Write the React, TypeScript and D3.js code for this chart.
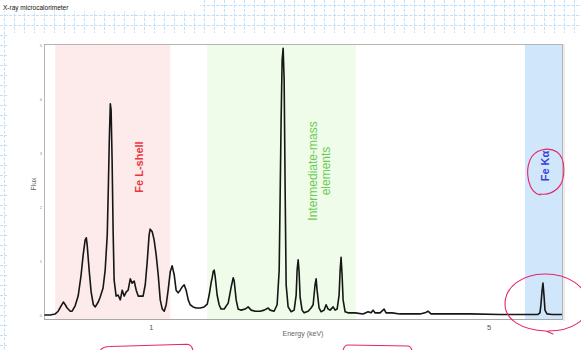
import React from 'react';
import * as d3 from 'd3';

// spectrum (keV, flux)
const spectrumEnergy = [
  0.601, 0.618, 0.633, 0.642, 0.651, 0.658, 0.664, 0.670, 0.680, 0.686,
  0.696, 0.706, 0.716, 0.723, 0.730, 0.734, 0.737, 0.744, 0.751, 0.759,
  0.766, 0.777, 0.784, 0.795, 0.803, 0.811, 0.815, 0.819, 0.823, 0.826,
  0.830, 0.834, 0.838, 0.846, 0.854, 0.863, 0.871, 0.879, 0.888, 0.896,
  0.905, 0.913, 0.922, 0.931, 0.940, 0.949, 0.962, 0.972, 0.981, 0.990,
  0.995, 1.005, 1.014, 1.024, 1.034, 1.044, 1.054, 1.064, 1.074, 1.084,
  1.095, 1.105, 1.116, 1.126, 1.137, 1.148, 1.159, 1.170, 1.181, 1.193,
  1.204, 1.221, 1.239, 1.263, 1.287, 1.306, 1.318, 1.331, 1.337, 1.344,
  1.350, 1.356, 1.369, 1.382, 1.395, 1.416, 1.443, 1.464, 1.478, 1.485,
  1.499, 1.513, 1.535, 1.565, 1.587, 1.610, 1.641, 1.680, 1.713, 1.746,
  1.762, 1.796, 1.822, 1.840, 1.848, 1.857, 1.866, 1.875, 1.884, 1.893,
  1.902, 1.920, 1.948, 1.976, 1.995, 2.004, 2.014, 2.023, 2.033, 2.052,
  2.072, 2.112, 2.142, 2.163, 2.183, 2.194, 2.204, 2.225, 2.247, 2.279,
  2.301, 2.323, 2.345, 2.379, 2.402, 2.425, 2.448, 2.460, 2.471, 2.483,
  2.495, 2.519, 2.555, 2.642, 2.744, 2.810, 2.851, 2.878, 2.905, 2.975,
  3.033, 3.062, 3.150, 3.272, 3.599, 3.686, 3.739, 3.793, 3.959, 4.567,
  5.268, 6.077, 6.313, 6.374, 6.404, 6.435, 6.466, 6.497, 6.528, 6.590,
  6.748, 7.078,
];
const spectrumFlux = [
  0, 0, 0.02, 0.07, 0.17, 0.24, 0.19, 0.13, 0.07, 0.07,
  0.17, 0.35, 0.74, 1.11, 1.39, 1.43, 1.30, 0.83, 0.43, 0.19,
  0.15, 0.24, 0.33, 0.50, 0.83, 1.48, 2.31, 3.24, 3.91, 3.80,
  2.87, 1.57, 0.65, 0.35, 0.37, 0.28, 0.46, 0.35, 0.43, 0.46,
  0.67, 0.59, 0.63, 0.46, 0.35, 0.35, 0.35, 0.56, 0.98, 1.48,
  1.59, 1.54, 1.39, 1.11, 0.74, 0.28, 0.11, 0.07, 0.19, 0.46,
  0.80, 0.91, 0.74, 0.46, 0.41, 0.46, 0.52, 0.56, 0.46, 0.28,
  0.19, 0.15, 0.13, 0.13, 0.15, 0.20, 0.37, 0.61, 0.69, 0.81,
  0.83, 0.72, 0.37, 0.19, 0.11, 0.11, 0.22, 0.52, 0.69, 0.63,
  0.28, 0.11, 0.09, 0.11, 0.15, 0.09, 0.07, 0.07, 0.09, 0.13,
  0.09, 0.07, 0.19, 0.83, 2.13, 3.61, 4.72, 4.94, 4.35, 2.31,
  0.56, 0.15, 0.06, 0.09, 0.37, 0.83, 1.02, 0.80, 0.33, 0.09,
  0.04, 0.07, 0.13, 0.19, 0.56, 0.67, 0.46, 0.13, 0.06, 0.09,
  0.19, 0.11, 0.09, 0.15, 0.09, 0.11, 0.37, 0.83, 1.07, 0.74,
  0.28, 0.06, 0.04, 0.04, 0.02, 0.06, 0.04, 0.09, 0.04, 0.04,
  0.11, 0.04, 0.04, 0.02, 0.02, 0.04, 0.07, 0.02, 0.02, 0.02,
  0.01, 0.01, 0.01, 0.04, 0.19, 0.43, 0.59, 0.37, 0.09, 0.02,
  0.01, 0.01,
];

const fluxTicks = [0, 1, 2, 3, 4, 5];
const energyTicks = [1, 5];

// shaded energy bands
const bandNames = ['Fe L-shell', 'Intermediate-mass elements', 'Fe Kα'];
const bandStart = [0.633, 1.306, 5.935];
const bandEnd = [1.095, 2.654, 7.08];
const bandFill = ['#fdeaea', '#effce9', '#cfe6fb'];

const W = 581;
const H = 350;
const FONT = '"Liberation Sans", Arial, sans-serif';
const RED = '#e8246b';

const x = d3.scaleLog().domain([0.6, 7.08]).range([44, 562]);
const y = d3.scaleLinear().domain([0, 5]).range([315, 45]);
const plotTop = 44;
const plotBottom = 319;

export default function App() {
  const line = d3.line<number>()
    .x((_, i) => x(spectrumEnergy[i]))
    .y(d => y(d));

  const gridX = d3.range(4, W, 10);
  const gridY = d3.range(5, H, 10);

  return (
    <svg width={W} height={H} style={{ position: 'absolute', left: 0, top: 0 }} fontFamily={FONT}>
      <rect width={W} height={H} fill="#fff" />

      {/* notebook grid */}
      <g stroke="#bfe0f8" strokeWidth={1} strokeDasharray="3,1.5">
        {gridX.map(gx => <line key={`gx${gx}`} x1={gx + 0.5} x2={gx + 0.5} y1={0} y2={H} />)}
        {gridY.map(gy => <line key={`gy${gy}`} x1={0} x2={W} y1={gy + 0.5} y2={gy + 0.5} />)}
      </g>
      <rect x={0} y={0} width={200} height={11} fill="#fff" />
      <rect x={7} y={33} width={W - 7} height={H - 33} fill="#fff" />

      <text x={3} y={10} fontSize={6.5} fill="#111">X-ray microcalorimeter</text>

      {/* bands */}
      {bandNames.map((name, i) => (
        <rect key={name} x={x(bandStart[i])} y={plotTop}
          width={x(bandEnd[i]) - x(bandStart[i])} height={plotBottom - plotTop}
          fill={bandFill[i]} />
      ))}

      {/* frame */}
      <g fill="none" stroke="#b4b4b4" strokeWidth={1}>
        <line x1={44} x2={562} y1={plotTop + 0.5} y2={plotTop + 0.5} />
        <line x1={44.5} x2={44.5} y1={plotTop} y2={plotBottom} />
        <line x1={562.5} x2={562.5} y1={plotTop} y2={plotBottom} />
        <line x1={44} x2={563} y1={plotBottom + 0.5} y2={plotBottom + 0.5} stroke="#a8a8a8" />
      </g>
      <line x1={564} x2={564} y1={plotTop} y2={plotBottom + 2} stroke="#ececec" strokeWidth={2} />

      {/* y ticks */}
      {fluxTicks.map(t => (
        <text key={t} x={42} y={y(t) + 1.5} fontSize={4} textAnchor="end" fill="#888">{t}</text>
      ))}
      <text transform="translate(36,184) rotate(-90)" fontSize={7} textAnchor="middle" fill="#666">Flux</text>

      {/* x ticks */}
      {energyTicks.map(t => (
        <text key={t} x={x(t)} y={330} fontSize={7.5} textAnchor="middle" fill="#555">{t}</text>
      ))}
      <text x={303} y={336} fontSize={7} textAnchor="middle" fill="#666">Energy (keV)</text>

      {/* spectrum */}
      <path d={line(spectrumFlux) || ''} fill="none" stroke="#161616" strokeWidth={1.6} strokeLinejoin="round" />

      {/* band labels */}
      <text transform="translate(143,167) rotate(-90)" fontSize={11} fontWeight="bold" textAnchor="middle" fill="#e8383d">{bandNames[0]}</text>
      <text transform="translate(316.5,171) rotate(-90)" fontSize={12} textAnchor="middle" fill="#6ccb52">
        <tspan x={0} dy={0}>Intermediate-mass</tspan>
        <tspan x={0} dy={13.5}>elements</tspan>
      </text>
      <text transform="translate(549,166) rotate(-90)" fontSize={11} fontWeight="bold" textAnchor="middle" fill="#3a3fd4">{bandNames[2]}</text>

      {/* hand-drawn annotations */}
      <g fill="none" stroke={RED} strokeWidth={1.1} strokeLinecap="round">
        <path d="M540,195 C528,192 525,172 530,160 C534,150 548,146 557,152 C566,158 566,180 558,188 C553,193 546,195 540,194" />
        <path d="M553,334 L546,331 C522,330 505,320 505,304 C505,287 522,274 545,274 C568,274 586,286 588,303 C589,320 572,331 548,331" />
        <path d="M100,351 Q102,346.5 110,346.5 L187,344.3 Q192,344.5 193,351" />
        <path d="M343,351 Q344,345 348,345 L408,346 Q411,346 412,351" />
      </g>
    </svg>
  );
}
